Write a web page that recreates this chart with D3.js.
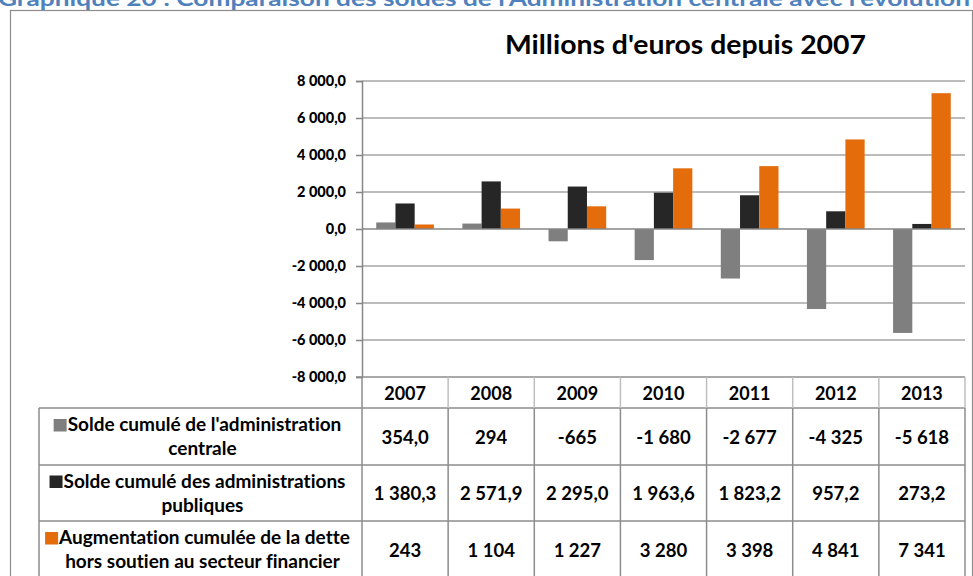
<!DOCTYPE html>
<html>
<head>
<meta charset="utf-8">
<script src="https://cdn.jsdelivr.net/npm/d3@7"></script>
<style>
  html, body { margin: 0; padding: 0; background: #fff; }
  svg { display: block; }
  text { font-family: Lato, "Open Sans", sans-serif; font-weight: bold; fill: #000; font-variant-ligatures: none; }
</style>
</head>
<body>
<svg id="chart" width="973" height="576"></svg>
<script>
// ---- Data ----
const categories = ["2007", "2008", "2009", "2010", "2011", "2012", "2013"];
const seriesNames = [
  ["Solde cumulé de l'administration", "centrale"],
  ["Solde cumulé des administrations", "publiques"],
  ["Augmentation cumulée de la dette", "hors soutien au secteur financier"]
];
const soldeCentral = [354.0, 294, -665, -1680, -2677, -4325, -5618];
const soldePubliques = [1380.3, 2571.9, 2295.0, 1963.6, 1823.2, 957.2, 273.2];
const detteHorsSoutien = [243, 1104, 1227, 3280, 3398, 4841, 7341];
const labelsCentral = ["354,0", "294", "-665", "-1 680", "-2 677", "-4 325", "-5 618"];
const labelsPubliques = ["1 380,3", "2 571,9", "2 295,0", "1 963,6", "1 823,2", "957,2", "273,2"];
const labelsDette = ["243", "1 104", "1 227", "3 280", "3 398", "4 841", "7 341"];
const yTicks = [-8000, -6000, -4000, -2000, 0, 2000, 4000, 6000, 8000];
const colors = ["#7F7F7F", "#262626", "#E46C0A"];
const pageTitle = "Graphique 20 : Comparaison des soldes de l'Administration centrale avec l'évolution";
const chartTitle = "Millions d'euros depuis 2007";

const seriesValues = [soldeCentral, soldePubliques, detteHorsSoutien];
const seriesLabels = [labelsCentral, labelsPubliques, labelsDette];

// ---- Layout ----
const svg = d3.select("#chart");
const plotLeft = 362, plotRight = 965, plotTop = 81, plotBottom = 377;
const legLeft = 39;
const rowTops = [377, 408, 465, 521, 578];

const fr = d3.formatLocale({decimal: ",", thousands: "\u00a0", grouping: [3], currency: ["", " €"], minus: "-"});
const fmt = fr.format(",.1f");

const x = d3.scaleBand().domain(categories).range([plotLeft, plotRight]).padding(0);
const xs = d3.scaleBand().domain([0, 1, 2]).range([0, x.bandwidth()]).paddingInner(0).paddingOuter(0.74);
const y = d3.scaleLinear().domain([-8000, 8000]).range([plotBottom, plotTop]);

// page title (cut off at top, as in the source)
svg.append("text")
  .attr("x", -2).attr("y", 6)
  .attr("textLength", 972).attr("lengthAdjust", "spacingAndGlyphs")
  .style("font-size", "20px").style("fill", "#4F81BD")
  .text(pageTitle);

// outer border
svg.append("rect")
  .attr("x", 10.5).attr("y", 10.5).attr("width", 962).attr("height", 600)
  .attr("fill", "none").attr("stroke", "#8C8C8C").attr("stroke-width", 1.2);

// chart title
svg.append("text")
  .attr("x", 505).attr("y", 54)
  .attr("textLength", 361).attr("lengthAdjust", "spacingAndGlyphs")
  .style("font-size", "27px")
  .text(chartTitle);

// gridlines
svg.append("g").selectAll("line").data(yTicks.filter(d => d !== 0 && d !== -8000)).join("line")
  .attr("x1", plotLeft).attr("x2", plotRight)
  .attr("y1", d => y(d)).attr("y2", d => y(d))
  .attr("stroke", "#A6A6A6").attr("stroke-width", 1.5);

// y axis
const yAxis = d3.axisLeft(y).tickValues(yTicks).tickFormat(fmt).tickSize(6).tickPadding(10);
const gy = svg.append("g").attr("transform", `translate(${plotLeft},0)`).call(yAxis);
gy.select(".domain").attr("stroke", "#868686").attr("stroke-width", 1.5);
gy.selectAll(".tick line").attr("stroke", "#868686").attr("stroke-width", 1.5);
gy.selectAll(".tick text")
  .style("font-family", "Lato, sans-serif").style("font-weight", "900")
  .style("font-size", "14.5px").attr("fill", "#000");

// bars
const groups = svg.append("g").selectAll("g").data(categories).join("g")
  .attr("transform", d => `translate(${x(d)},0)`);
groups.selectAll("rect").data((c, i) => seriesValues.map((s, k) => ({k, v: s[i]}))).join("rect")
  .attr("x", d => xs(d.k))
  .attr("width", xs.bandwidth())
  .attr("y", d => Math.min(y(d.v), y(0)))
  .attr("height", d => Math.abs(y(d.v) - y(0)))
  .attr("fill", d => colors[d.k]);

// zero line (category axis)
svg.append("line")
  .attr("x1", plotLeft).attr("x2", plotRight)
  .attr("y1", y(0)).attr("y2", y(0))
  .attr("stroke", "#868686").attr("stroke-width", 1.5);

// ---- Data table ----
const tbl = svg.append("g");
tbl.append("line").attr("x1", plotLeft - 6).attr("x2", plotRight)
  .attr("y1", rowTops[0]).attr("y2", rowTops[0])
  .attr("stroke", "#8C8C8C").attr("stroke-width", 1.5);
tbl.selectAll("line.h").data(rowTops.slice(1)).join("line").attr("class", "h")
  .attr("x1", legLeft).attr("x2", plotRight)
  .attr("y1", d => d).attr("y2", d => d)
  .attr("stroke", "#8C8C8C").attr("stroke-width", 1.5);
const bounds = categories.map(c => x(c)).concat([plotRight]);
tbl.selectAll("line.vh").data(bounds.slice(1)).join("line").attr("class", "vh")
  .attr("x1", d => d).attr("x2", d => d)
  .attr("y1", rowTops[0]).attr("y2", rowTops[1])
  .attr("stroke", "#BFBFBF").attr("stroke-width", 1.5);
tbl.selectAll("line.vb").data([legLeft].concat(bounds)).join("line").attr("class", "vb")
  .attr("x1", d => d).attr("x2", d => d)
  .attr("y1", d => d === plotLeft ? rowTops[0] : rowTops[1]).attr("y2", 580)
  .attr("stroke", "#8C8C8C").attr("stroke-width", 1.5);

// header years
tbl.selectAll("text.yr").data(categories).join("text").attr("class", "yr")
  .attr("x", d => x(d) + x.bandwidth() / 2)
  .attr("y", 400)
  .attr("text-anchor", "middle")
  .style("font-size", "18px")
  .text(d => d);

// rows
seriesNames.forEach((lines, k) => {
  const top = rowTops[k + 1], bot = rowTops[k + 2];
  const mid = (top + bot) / 2;
  const cx = (legLeft + plotLeft) / 2;
  tbl.selectAll(null).data(seriesLabels[k]).join("text")
    .attr("x", (d, i) => x(categories[i]) + x.bandwidth() / 2)
    .attr("y", mid + 7)
    .attr("text-anchor", "middle")
    .style("font-size", "18.5px")
    .text(d => d);
  const l1 = tbl.append("text").attr("y", mid - 5.5).style("font-size", "19px").text(lines[0]);
  const w1 = l1.node().getComputedTextLength();
  const sq = 13, gap = 1;
  const total = sq + gap + w1;
  const startX = cx - total / 2 - 3;
  tbl.append("rect").attr("x", startX).attr("y", mid - 17.5).attr("width", sq).attr("height", 12.5)
    .attr("fill", colors[k]);
  l1.attr("x", startX + sq + gap);
  tbl.append("text").attr("x", cx + 2).attr("y", mid + 18.5)
    .attr("text-anchor", "middle").style("font-size", "19px").text(lines[1]);
});
</script>
</body>
</html>
